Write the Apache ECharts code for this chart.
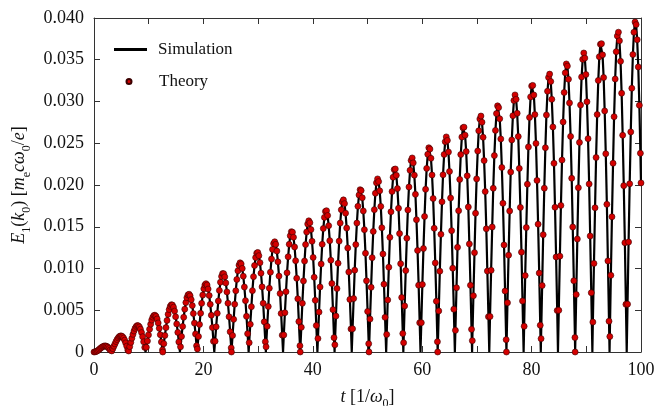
<!DOCTYPE html>
<html>
<head>
<meta charset="utf-8">
<script src="https://cdn.jsdelivr.net/npm/echarts@6/dist/echarts.min.js"></script>
<style>
html, body { margin: 0; padding: 0; background: #fff; }
#chart { width: 664px; height: 406px; }
</style>
</head>
<body>
<div id="chart"></div>
<script>
// theory samples: time t [1/omega0], one row per hump
const theoryT = [
  0, 0.2, 0.39, 0.59, 0.79, 0.98, 1.18, 1.37, 1.57, 1.77, 1.96, 2.16, 2.36, 2.55, 2.75, 2.95,
  3.24, 3.44, 3.63, 3.83, 4.03, 4.22, 4.42, 4.61, 4.81, 5.01, 5.2, 5.4, 5.6, 5.79, 5.99, 6.18,
  6.33, 6.53, 6.73, 6.92, 7.12, 7.31, 7.51, 7.71, 7.9, 8.1, 8.3, 8.49, 8.69, 8.89, 9.08, 9.28,
  9.57, 9.77, 9.96, 10.16, 10.36, 10.55, 10.75, 10.95, 11.14, 11.34, 11.54, 11.73, 11.93, 12.12, 12.32, 12.52,
  12.57, 12.76, 12.96, 13.16, 13.35, 13.55, 13.74, 13.94, 14.14, 14.33, 14.53, 14.73, 14.92, 15.12, 15.32, 15.51,
  15.81, 16, 16.2, 16.4, 16.59, 16.79, 16.98, 17.18, 17.38, 17.57, 17.77, 17.97, 18.16, 18.36, 18.56, 18.75,
  18.9, 19.1, 19.29, 19.49, 19.68, 19.88, 20.08, 20.27, 20.47, 20.67, 20.86, 21.06, 21.25, 21.45, 21.65, 21.84,
  22.14, 22.33, 22.53, 22.73, 22.92, 23.12, 23.32, 23.51, 23.71, 23.91, 24.1, 24.3, 24.49, 24.69, 24.89, 25.08,
  25.13, 25.33, 25.53, 25.72, 25.92, 26.11, 26.31, 26.51, 26.7, 26.9, 27.1, 27.29, 27.49, 27.69, 27.88, 28.08,
  28.37, 28.57, 28.77, 28.96, 29.16, 29.35, 29.55, 29.75, 29.94, 30.14, 30.34, 30.53, 30.73, 30.93, 31.12, 31.32,
  31.46, 31.66, 31.86, 32.05, 32.25, 32.45, 32.64, 32.84, 33.04, 33.23, 33.43, 33.62, 33.82, 34.02, 34.21, 34.41,
  34.7, 34.9, 35.1, 35.29, 35.49, 35.69, 35.88, 36.08, 36.28, 36.47, 36.67, 36.86, 37.06, 37.26, 37.45, 37.65,
  37.7, 37.9, 38.09, 38.29, 38.49, 38.68, 38.88, 39.07, 39.27, 39.47, 39.66, 39.86, 40.06, 40.25, 40.45, 40.64,
  40.94, 41.14, 41.33, 41.53, 41.72, 41.92, 42.12, 42.31, 42.51, 42.71, 42.9, 43.1, 43.3, 43.49, 43.69, 43.88,
  44.03, 44.23, 44.42, 44.62, 44.82, 45.01, 45.21, 45.41, 45.6, 45.8, 45.99, 46.19, 46.39, 46.58, 46.78, 46.98,
  47.27, 47.47, 47.66, 47.86, 48.06, 48.25, 48.45, 48.65, 48.84, 49.04, 49.23, 49.43, 49.63, 49.82, 50.02, 50.22,
  50.27, 50.46, 50.66, 50.85, 51.05, 51.25, 51.44, 51.64, 51.84, 52.03, 52.23, 52.43, 52.62, 52.82, 53.01, 53.21,
  53.51, 53.7, 53.9, 54.09, 54.29, 54.49, 54.68, 54.88, 55.08, 55.27, 55.47, 55.67, 55.86, 56.06, 56.25, 56.45,
  56.6, 56.79, 56.99, 57.19, 57.38, 57.58, 57.78, 57.97, 58.17, 58.36, 58.56, 58.76, 58.95, 59.15, 59.35, 59.54,
  59.84, 60.03, 60.23, 60.43, 60.62, 60.82, 61.02, 61.21, 61.41, 61.6, 61.8, 62, 62.19, 62.39, 62.59, 62.78,
  62.83, 63.03, 63.22, 63.42, 63.62, 63.81, 64.01, 64.21, 64.4, 64.6, 64.8, 64.99, 65.19, 65.38, 65.58, 65.78,
  66.07, 66.27, 66.46, 66.66, 66.86, 67.05, 67.25, 67.45, 67.64, 67.84, 68.04, 68.23, 68.43, 68.62, 68.82, 69.02,
  69.16, 69.36, 69.56, 69.75, 69.95, 70.15, 70.34, 70.54, 70.74, 70.93, 71.13, 71.32, 71.52, 71.72, 71.91, 72.11,
  72.4, 72.6, 72.8, 72.99, 73.19, 73.39, 73.58, 73.78, 73.97, 74.17, 74.37, 74.56, 74.76, 74.96, 75.15, 75.35,
  75.4, 75.59, 75.79, 75.99, 76.18, 76.38, 76.58, 76.77, 76.97, 77.17, 77.36, 77.56, 77.75, 77.95, 78.15, 78.34,
  78.64, 78.83, 79.03, 79.23, 79.42, 79.62, 79.82, 80.01, 80.21, 80.41, 80.6, 80.8, 80.99, 81.19, 81.39, 81.58,
  81.73, 81.93, 82.12, 82.32, 82.52, 82.71, 82.91, 83.1, 83.3, 83.5, 83.69, 83.89, 84.09, 84.28, 84.48, 84.68,
  84.97, 85.17, 85.36, 85.56, 85.76, 85.95, 86.15, 86.35, 86.54, 86.74, 86.93, 87.13, 87.33, 87.52, 87.72, 87.92,
  87.96, 88.16, 88.36, 88.55, 88.75, 88.95, 89.14, 89.34, 89.54, 89.73, 89.93, 90.12, 90.32, 90.52, 90.71, 90.91,
  91.2, 91.4, 91.6, 91.79, 91.99, 92.19, 92.38, 92.58, 92.78, 92.97, 93.17, 93.36, 93.56, 93.76, 93.95, 94.15,
  94.3, 94.49, 94.69, 94.89, 95.08, 95.28, 95.47, 95.67, 95.87, 96.06, 96.26, 96.46, 96.65, 96.85, 97.05, 97.24,
  97.54, 97.73, 97.93, 98.13, 98.32, 98.52, 98.71, 98.91, 99.11, 99.3, 99.5, 99.7, 99.89, 100
];

// theory samples: E1(k0) [m_e c omega0 / e]
const theoryE = [
  0, 0.00002, 0.00006, 0.00013, 0.00022, 0.00033, 0.00044, 0.00054, 0.00063, 0.00069, 0.00073, 0.00072, 0.00067, 0.00057, 0.00042, 0.00023,
  0.00013, 0.0004, 0.00069, 0.00097, 0.00125, 0.00149, 0.00169, 0.00184, 0.00192, 0.00192, 0.00184, 0.00167, 0.00142, 0.00109, 0.0007, 0.00024,
  0.00012, 0.00064, 0.00115, 0.00165, 0.00211, 0.00251, 0.00283, 0.00305, 0.00316, 0.00314, 0.003, 0.00273, 0.00233, 0.00183, 0.00122, 0.00055,
  0.00056, 0.00132, 0.00205, 0.00273, 0.00333, 0.00382, 0.00417, 0.00437, 0.00441, 0.00427, 0.00396, 0.00348, 0.00284, 0.00207, 0.0012, 0.00025,
  0, 0.001, 0.00198, 0.00292, 0.00378, 0.00451, 0.00508, 0.00547, 0.00566, 0.00562, 0.00537, 0.0049, 0.00422, 0.00336, 0.00235, 0.00121,
  0.00062, 0.00186, 0.00306, 0.00416, 0.00513, 0.00592, 0.0065, 0.00684, 0.00692, 0.00673, 0.00627, 0.00556, 0.00461, 0.00346, 0.00216, 0.00074,
  0.00037, 0.00186, 0.0033, 0.00464, 0.00583, 0.00682, 0.00756, 0.00802, 0.00818, 0.00802, 0.00754, 0.00677, 0.00571, 0.00441, 0.00292, 0.00128,
  0.0013, 0.00301, 0.00463, 0.00611, 0.00737, 0.00836, 0.00905, 0.00939, 0.00938, 0.009, 0.00827, 0.0072, 0.00584, 0.00422, 0.00242, 0.00049,
  0, 0.00198, 0.00391, 0.00572, 0.00733, 0.00869, 0.00972, 0.0104, 0.01068, 0.01055, 0.01001, 0.00908, 0.00778, 0.00615, 0.00427, 0.00219,
  0.00111, 0.00332, 0.00542, 0.00735, 0.00902, 0.01036, 0.01131, 0.01184, 0.01192, 0.01154, 0.0107, 0.00944, 0.0078, 0.00583, 0.00361, 0.00123,
  0.00062, 0.00308, 0.00545, 0.00764, 0.00956, 0.01113, 0.01229, 0.01299, 0.0132, 0.0129, 0.01209, 0.0108, 0.00909, 0.007, 0.00461, 0.00202,
  0.00204, 0.0047, 0.00722, 0.00948, 0.0114, 0.0129, 0.01392, 0.01441, 0.01435, 0.01374, 0.01258, 0.01093, 0.00883, 0.00637, 0.00364, 0.00074,
  0, 0.00296, 0.00583, 0.00851, 0.01089, 0.01287, 0.01437, 0.01533, 0.01571, 0.01548, 0.01466, 0.01326, 0.01133, 0.00895, 0.00619, 0.00317,
  0.00161, 0.00478, 0.00779, 0.01054, 0.0129, 0.01479, 0.01612, 0.01684, 0.01692, 0.01635, 0.01513, 0.01333, 0.01099, 0.0082, 0.00507, 0.00172,
  0.00086, 0.0043, 0.0076, 0.01063, 0.01328, 0.01544, 0.01703, 0.01797, 0.01822, 0.01777, 0.01663, 0.01484, 0.01246, 0.00958, 0.0063, 0.00276,
  0.00278, 0.0064, 0.0098, 0.01286, 0.01544, 0.01745, 0.0188, 0.01944, 0.01933, 0.01847, 0.01689, 0.01465, 0.01183, 0.00852, 0.00486, 0.00099,
  0, 0.00394, 0.00775, 0.0113, 0.01444, 0.01705, 0.01901, 0.02026, 0.02073, 0.02041, 0.0193, 0.01744, 0.01488, 0.01174, 0.00812, 0.00415,
  0.0021, 0.00624, 0.01016, 0.01373, 0.01679, 0.01922, 0.02093, 0.02185, 0.02192, 0.02116, 0.01957, 0.01721, 0.01418, 0.01057, 0.00653, 0.00221,
  0.00111, 0.00552, 0.00975, 0.01363, 0.01701, 0.01976, 0.02176, 0.02294, 0.02324, 0.02265, 0.02118, 0.01888, 0.01584, 0.01216, 0.008, 0.0035,
  0.00351, 0.00809, 0.01239, 0.01623, 0.01948, 0.02199, 0.02368, 0.02446, 0.0243, 0.0232, 0.0212, 0.01838, 0.01482, 0.01067, 0.00608, 0.00123,
  0, 0.00492, 0.00968, 0.01409, 0.01799, 0.02122, 0.02366, 0.02519, 0.02576, 0.02534, 0.02395, 0.02162, 0.01844, 0.01453, 0.01004, 0.00513,
  0.00259, 0.00769, 0.01253, 0.01692, 0.02067, 0.02365, 0.02574, 0.02685, 0.02693, 0.02597, 0.024, 0.0211, 0.01736, 0.01294, 0.00799, 0.00271,
  0.00136, 0.00674, 0.0119, 0.01662, 0.02073, 0.02407, 0.02649, 0.02791, 0.02826, 0.02752, 0.02572, 0.02292, 0.01921, 0.01475, 0.00969, 0.00423,
  0.00425, 0.00978, 0.01497, 0.01961, 0.02352, 0.02654, 0.02855, 0.02948, 0.02927, 0.02793, 0.02552, 0.0221, 0.01781, 0.01282, 0.0073, 0.00148,
  0, 0.0059, 0.0116, 0.01689, 0.02155, 0.0254, 0.0283, 0.03012, 0.03079, 0.03027, 0.02859, 0.0258, 0.02199, 0.01732, 0.01196, 0.00611,
  0.00308, 0.00915, 0.0149, 0.0201, 0.02456, 0.02809, 0.03055, 0.03185, 0.03193, 0.03078, 0.02843, 0.02498, 0.02055, 0.01531, 0.00945, 0.0032,
  0.0016, 0.00796, 0.01405, 0.01962, 0.02446, 0.02838, 0.03123, 0.03288, 0.03328, 0.0324, 0.03026, 0.02695, 0.02259, 0.01733, 0.01138, 0.00497,
  0.00499, 0.01148, 0.01755, 0.02298, 0.02755, 0.03108, 0.03343, 0.0345, 0.03424, 0.03267, 0.02983, 0.02582, 0.02081, 0.01497, 0.00853, 0.00173,
  0, 0.00688, 0.01353, 0.01968, 0.0251, 0.02958, 0.03294, 0.03505, 0.03581, 0.0352, 0.03323, 0.02997, 0.02555, 0.02012, 0.01389, 0.00709,
  0.00358, 0.01061, 0.01727, 0.02329, 0.02844, 0.03252, 0.03536, 0.03685, 0.03693, 0.03559, 0.03287, 0.02887, 0.02374, 0.01768, 0.01091, 0.00369,
  0.00185, 0.00918, 0.01619, 0.02261, 0.02818, 0.03269, 0.03596, 0.03785, 0.0383, 0.03727, 0.03481, 0.03099, 0.02596, 0.01992, 0.01308, 0.00571,
  0.00573, 0.01317, 0.02014, 0.02636, 0.03159, 0.03562, 0.0383, 0.03952, 0.03921, 0.0374, 0.03414, 0.02955, 0.0238, 0.02025
];

// times where the simulated field touches zero
const troughT = [
  0, 3.14, 6.28, 9.42, 12.57, 15.71, 18.85, 21.99, 25.13, 28.27, 31.42, 34.56, 37.7, 40.84, 43.98, 47.12,
  50.27, 53.41, 56.55, 59.69, 62.83, 65.97, 69.12, 72.26, 75.4, 78.54, 81.68, 84.82, 87.96, 91.11, 94.25, 97.39
];

const seriesNames = ['Simulation', 'Theory'];
const xLabelStep = 20;   // labelled x ticks
const xTickStep = 10;    // all x ticks
const yTickStep = 0.005;

const FONT = 'Liberation Serif';

const theoryPoints = theoryT.map((t, i) => [t, theoryE[i]]);
const simPoints = theoryPoints.concat(troughT.map(t => [t, 0]))
    .sort((a, b) => a[0] - b[0]);

const frameLine = { onZero: false, lineStyle: { color: '#333', width: 1 } };
const innerTick = { show: true, inside: true, length: 6, lineStyle: { color: '#333', width: 1 } };
const nameStyle = {
    fontFamily: FONT, fontSize: 18, color: '#111', lineHeight: 26,
    rich: {
        i: { fontFamily: FONT, fontStyle: 'italic', fontSize: 18, color: '#111', lineHeight: 26 },
        s: { fontFamily: FONT, fontSize: 12, color: '#111', lineHeight: 12, verticalAlign: 'bottom' }
    }
};

const chart = echarts.init(document.getElementById('chart'));

const option = {
    animation: false,
    backgroundColor: '#fff',
    grid: { left: 94, right: 23, top: 18, bottom: 54, outerBoundsMode: 'none' },
    legend: [{
        data: [{ name: seriesNames[0], icon: 'rect' }],
        left: 109, top: 36,
        itemWidth: 33, itemHeight: 3,
        textStyle: { fontFamily: FONT, fontSize: 17, color: '#111', padding: [0, 0, 0, 6] }
    }, {
        data: [{ name: seriesNames[1], icon: 'circle' }],
        left: 120.5, top: 68,
        itemWidth: 5, itemHeight: 5,
        textStyle: { fontFamily: FONT, fontSize: 17, color: '#111', padding: [0, 0, 0, 22.5] }
    }],
    xAxis: [{
        type: 'value', min: 0, max: 100, interval: xTickStep,
        axisLine: frameLine, axisTick: innerTick, splitLine: { show: false },
        axisLabel: {
            margin: 9, fontFamily: FONT, fontSize: 18, color: '#111',
            formatter: v => (v % xLabelStep === 0 ? String(v) : '')
        },
        name: '{i|t} [1/{i|ω}{s|0}]',
        nameLocation: 'middle', nameGap: 23,
        nameTextStyle: nameStyle
    }, {
        type: 'value', position: 'top', min: 0, max: 100, interval: xTickStep,
        axisLine: frameLine, axisTick: innerTick,
        axisLabel: { show: false }, splitLine: { show: false }
    }],
    yAxis: [{
        type: 'value', min: 0, max: 0.04, interval: yTickStep,
        axisLine: frameLine, axisTick: innerTick, splitLine: { show: false },
        axisLabel: {
            margin: 10, fontFamily: FONT, fontSize: 18, color: '#111',
            formatter: v => (v === 0 ? '0' : v.toFixed(3))
        },
        name: '{i|E}{s|1}({i|k}{s|0}) [{i|m}{s|e}{i|cω}{s|0}/{i|e}]',
        nameLocation: 'middle', nameRotate: 90, nameGap: 58,
        nameTextStyle: nameStyle
    }, {
        type: 'value', position: 'right', min: 0, max: 0.04, interval: yTickStep,
        axisLine: frameLine, axisTick: innerTick,
        axisLabel: { show: false }, splitLine: { show: false }
    }],
    series: [{
        name: seriesNames[0],
        type: 'line',
        data: simPoints,
        symbol: 'none',
        showSymbol: false,
        lineStyle: { color: '#000', width: 2.2 },
        itemStyle: { color: '#000' },
        z: 2
    }, {
        name: seriesNames[1],
        type: 'scatter',
        data: theoryPoints,
        symbolSize: 6,
        itemStyle: { color: '#d40000', borderColor: '#3a0000', borderWidth: 0.6, opacity: 1 },
        z: 3
    }]
};

chart.setOption(option);
window.addEventListener('resize', function () {
    chart.resize();
});
</script>
</body>
</html>
